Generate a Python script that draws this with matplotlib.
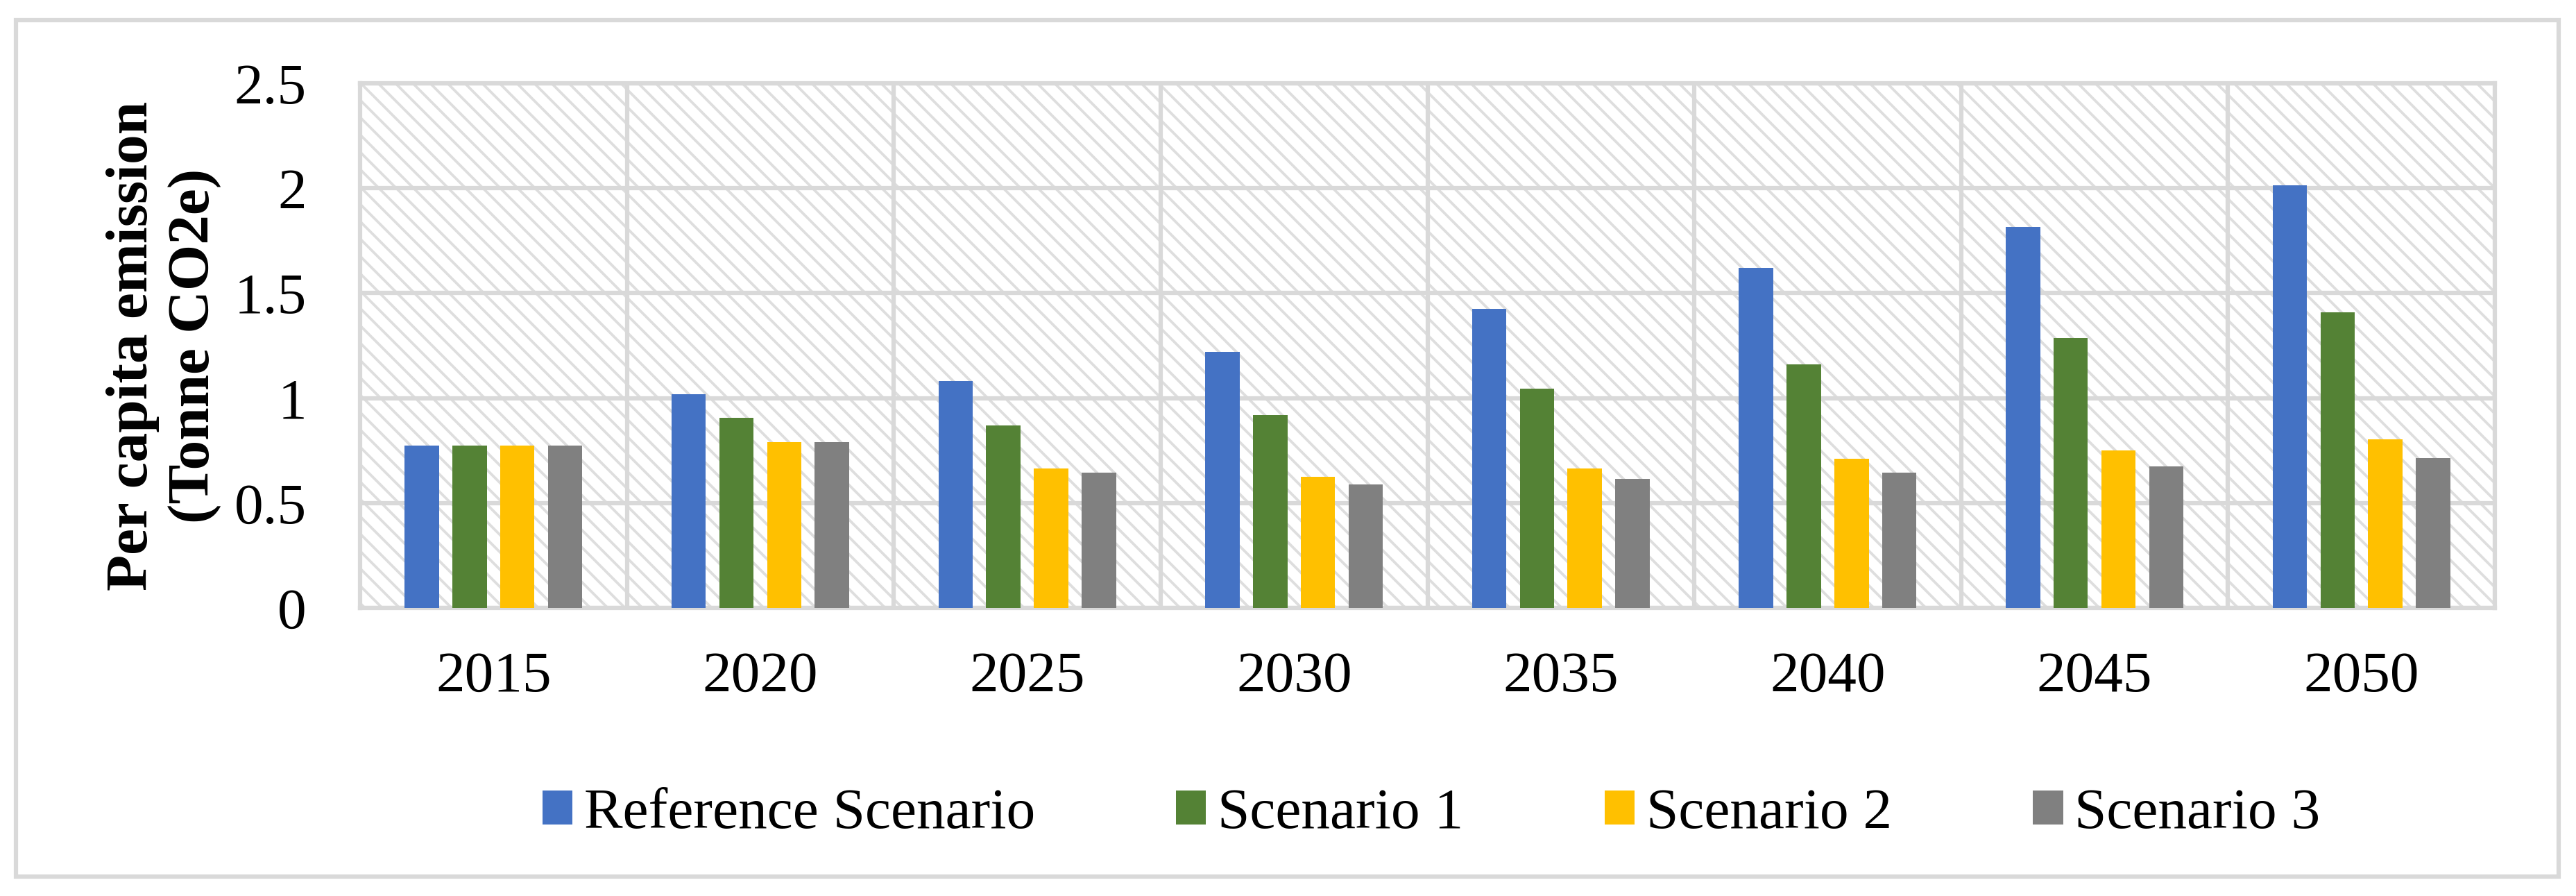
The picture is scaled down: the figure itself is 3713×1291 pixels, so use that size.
import numpy as np
import matplotlib
matplotlib.use("Agg")
import matplotlib.pyplot as plt
from matplotlib.patches import Rectangle

# values
years = ["2015", "2020", "2025", "2030", "2035", "2040", "2045", "2050"]
series_names = ["Reference Scenario", "Scenario 1", "Scenario 2", "Scenario 3"]
reference = [0.775, 1.02, 1.08, 1.22, 1.425, 1.62, 1.815, 2.015]
scenario1 = [0.775, 0.905, 0.87, 0.92, 1.045, 1.16, 1.285, 1.41]
scenario2 = [0.775, 0.79, 0.665, 0.625, 0.665, 0.71, 0.75, 0.805]
scenario3 = [0.775, 0.79, 0.645, 0.59, 0.615, 0.645, 0.675, 0.715]
colors = ["#4472C4", "#548235", "#FFC000", "#808080"]
yticks = [0, 0.5, 1, 1.5, 2, 2.5]
ytick_labels = ["0", "0.5", "1", "1.5", "2", "2.5"]

GRID = "#D9D9D9"
W, H, DPI = 3713, 1291, 150

plt.rcParams["font.family"] = ["Liberation Serif", "DejaVu Serif"]
plt.rcParams["hatch.color"] = "#DEDEDE"
plt.rcParams["hatch.linewidth"] = 1.8

fig = plt.figure(figsize=(W / DPI, H / DPI), dpi=DPI)
ax = fig.add_axes([519 / W, 1 - 876 / H, (3596 - 519) / W, (876 - 120) / H])

# patterned plot area (light downward diagonal)
ax.set_facecolor("white")
ax.add_patch(Rectangle((0, 0), 1, 1, transform=ax.transAxes, facecolor="white",
                       edgecolor="#DEDEDE", hatch="\\\\", linewidth=0, zorder=0))

x = np.arange(len(years))
bw, pitch = 0.1287, 0.179
for i, (vals, name) in enumerate(zip([reference, scenario1, scenario2, scenario3], series_names)):
    ax.bar(x + (i - 1.5) * pitch, vals, width=bw, color=colors[i], label=name, zorder=3)

ax.set_xlim(-0.5, len(years) - 0.5)
ax.set_ylim(0, 2.5)
ax.set_yticks(yticks)
ax.set_yticklabels(ytick_labels)
ax.set_xticks(x)
ax.set_xticklabels(years)
ax.set_xticks(np.arange(0.5, len(years) - 0.5, 1), minor=True)
ax.tick_params(axis="both", which="both", length=0, labelsize=40)
ax.tick_params(axis="y", pad=37)
ax.tick_params(axis="x", pad=30)
ax.grid(axis="y", which="major", color=GRID, linewidth=3, zorder=1)
ax.grid(axis="x", which="minor", color=GRID, linewidth=3, zorder=1)
ax.grid(axis="x", which="major", visible=False)
ax.set_axisbelow(True)
for s in ax.spines.values():
    s.set_color(GRID)
    s.set_linewidth(3)

fig.text(236 / W, 1 - 498 / H, "Per capita emission\n(Tonne CO2e)", rotation=90,
         ha="center", va="center", multialignment="center",
         fontsize=41, fontweight="bold")

fig.legend(loc="center", bbox_to_anchor=(2063 / W, 1 - 1173 / H), ncol=4,
           frameon=False, fontsize=40, handlelength=0.52, handleheight=0.52,
           handletextpad=0.2, columnspacing=2.44)

# outer chart border
fig.patches.append(Rectangle((23 / W, 1 - 1263 / H), (3688 - 23) / W, (1263 - 29) / H,
                             transform=fig.transFigure, fill=False,
                             edgecolor=GRID, linewidth=3))

fig.savefig("out.png", dpi=DPI, facecolor="white")
